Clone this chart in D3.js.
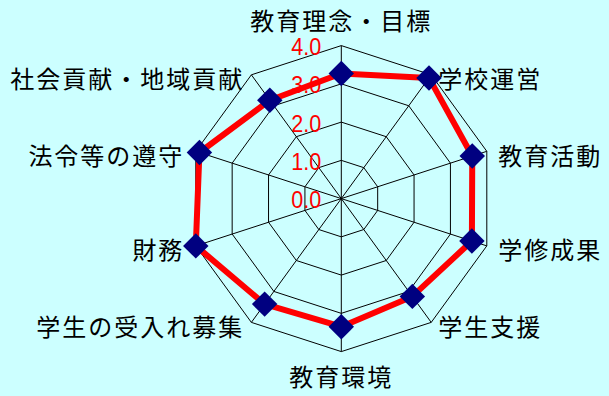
<!DOCTYPE html>
<html>
<head>
<meta charset="utf-8">
<script src="https://cdn.jsdelivr.net/npm/d3@7"></script>
<style>
  body { margin: 0; background: #ccffff; }
  svg { display: block; }
</style>
</head>
<body>
<svg id="chart" width="609" height="396"></svg>
<script>
// categories, clockwise from the top
let categories = ["教育理念・目標", "学校運営", "教育活動", "学修成果", "学生支援",
                  "教育環境", "学生の受入れ募集", "財務", "法令等の遵守", "社会貢献・地域貢献"];
let values = [3.27, 3.9, 3.6, 3.59, 3.16, 3.35, 3.41, 4.0, 3.9, 3.18];
let ticks = [0, 1, 2, 3, 4];
let tick_labels = ["0.0", "1.0", "2.0", "3.0", "4.0"];

let svg = d3.select("#chart");
let cx = 341.3, cy = 198.6, R = 153;

let r = d3.scaleLinear().domain([0, 4]).range([0, R]);
let angle = d3.scalePoint().domain(d3.range(categories.length))
  .range([0, 2 * Math.PI * (categories.length - 1) / categories.length]);

let pt = (i, v) => [cx + r(v) * Math.sin(angle(i)), cy - r(v) * Math.cos(angle(i))];

svg.append("rect").attr("width", 609).attr("height", 396).attr("fill", "#ccffff");

let grid = svg.append("g").attr("fill", "none").attr("stroke", "black").attr("stroke-width", 1);

// rings
grid.selectAll("polygon")
  .data(ticks.filter(t => t > 0))
  .join("polygon")
    .attr("points", t => categories.map((c, i) => pt(i, t).join(",")).join(" "));

// spokes
grid.selectAll("line")
  .data(categories)
  .join("line")
    .attr("x1", cx).attr("y1", cy)
    .attr("x2", (d, i) => pt(i, 4)[0])
    .attr("y2", (d, i) => pt(i, 4)[1]);

// tick labels
svg.append("g").selectAll("text")
  .data(ticks)
  .join("text")
    .attr("x", cx - 20)
    .attr("y", t => cy - r(t) + 1)
    .attr("text-anchor", "end")
    .attr("dominant-baseline", "central")
    .attr("font-family", "Liberation Sans, Arial, sans-serif")
    .attr("font-size", 24)
    .attr("textLength", 30)
    .attr("lengthAdjust", "spacingAndGlyphs")
    .attr("fill", "#ff0000")
    .text((t, i) => tick_labels[i]);

// series line
let line = d3.line().curve(d3.curveLinearClosed);
svg.append("path")
  .attr("d", line(values.map((v, i) => pt(i, v))))
  .attr("fill", "none")
  .attr("stroke", "#ff0000")
  .attr("stroke-width", 6)
  .attr("stroke-linejoin", "round");

// markers
let diamond = d3.symbol().type(d3.symbolSquare).size(18 * 18);
svg.append("g").selectAll("path")
  .data(values)
  .join("path")
    .attr("d", diamond)
    .attr("transform", (v, i) => `translate(${pt(i, v)[0]} ${pt(i, v)[1]}) rotate(45)`)
    .attr("fill", "#000080");

// category labels
let label_pos = function(i) {
  let a = angle(i), s = Math.sin(a), c = Math.cos(a);
  if (Math.abs(s) < 0.01) {
    return {x: cx, y: cy - (R + (c > 0 ? 26 : 24)) * c, anchor: "middle"};
  }
  return {x: cx + (R + 12) * s, y: cy - R * c + 3, anchor: s > 0 ? "start" : "end"};
};

svg.append("g").selectAll("text")
  .data(categories)
  .join("text")
    .attr("x", (d, i) => label_pos(i).x)
    .attr("y", (d, i) => label_pos(i).y)
    .attr("text-anchor", (d, i) => label_pos(i).anchor)
    .attr("dominant-baseline", "central")
    .attr("font-family", "Noto Sans CJK JP, sans-serif")
    .attr("font-size", 24)
    .attr("letter-spacing", 2)
    .attr("fill", "black")
    .text(d => d);
</script>
</body>
</html>
